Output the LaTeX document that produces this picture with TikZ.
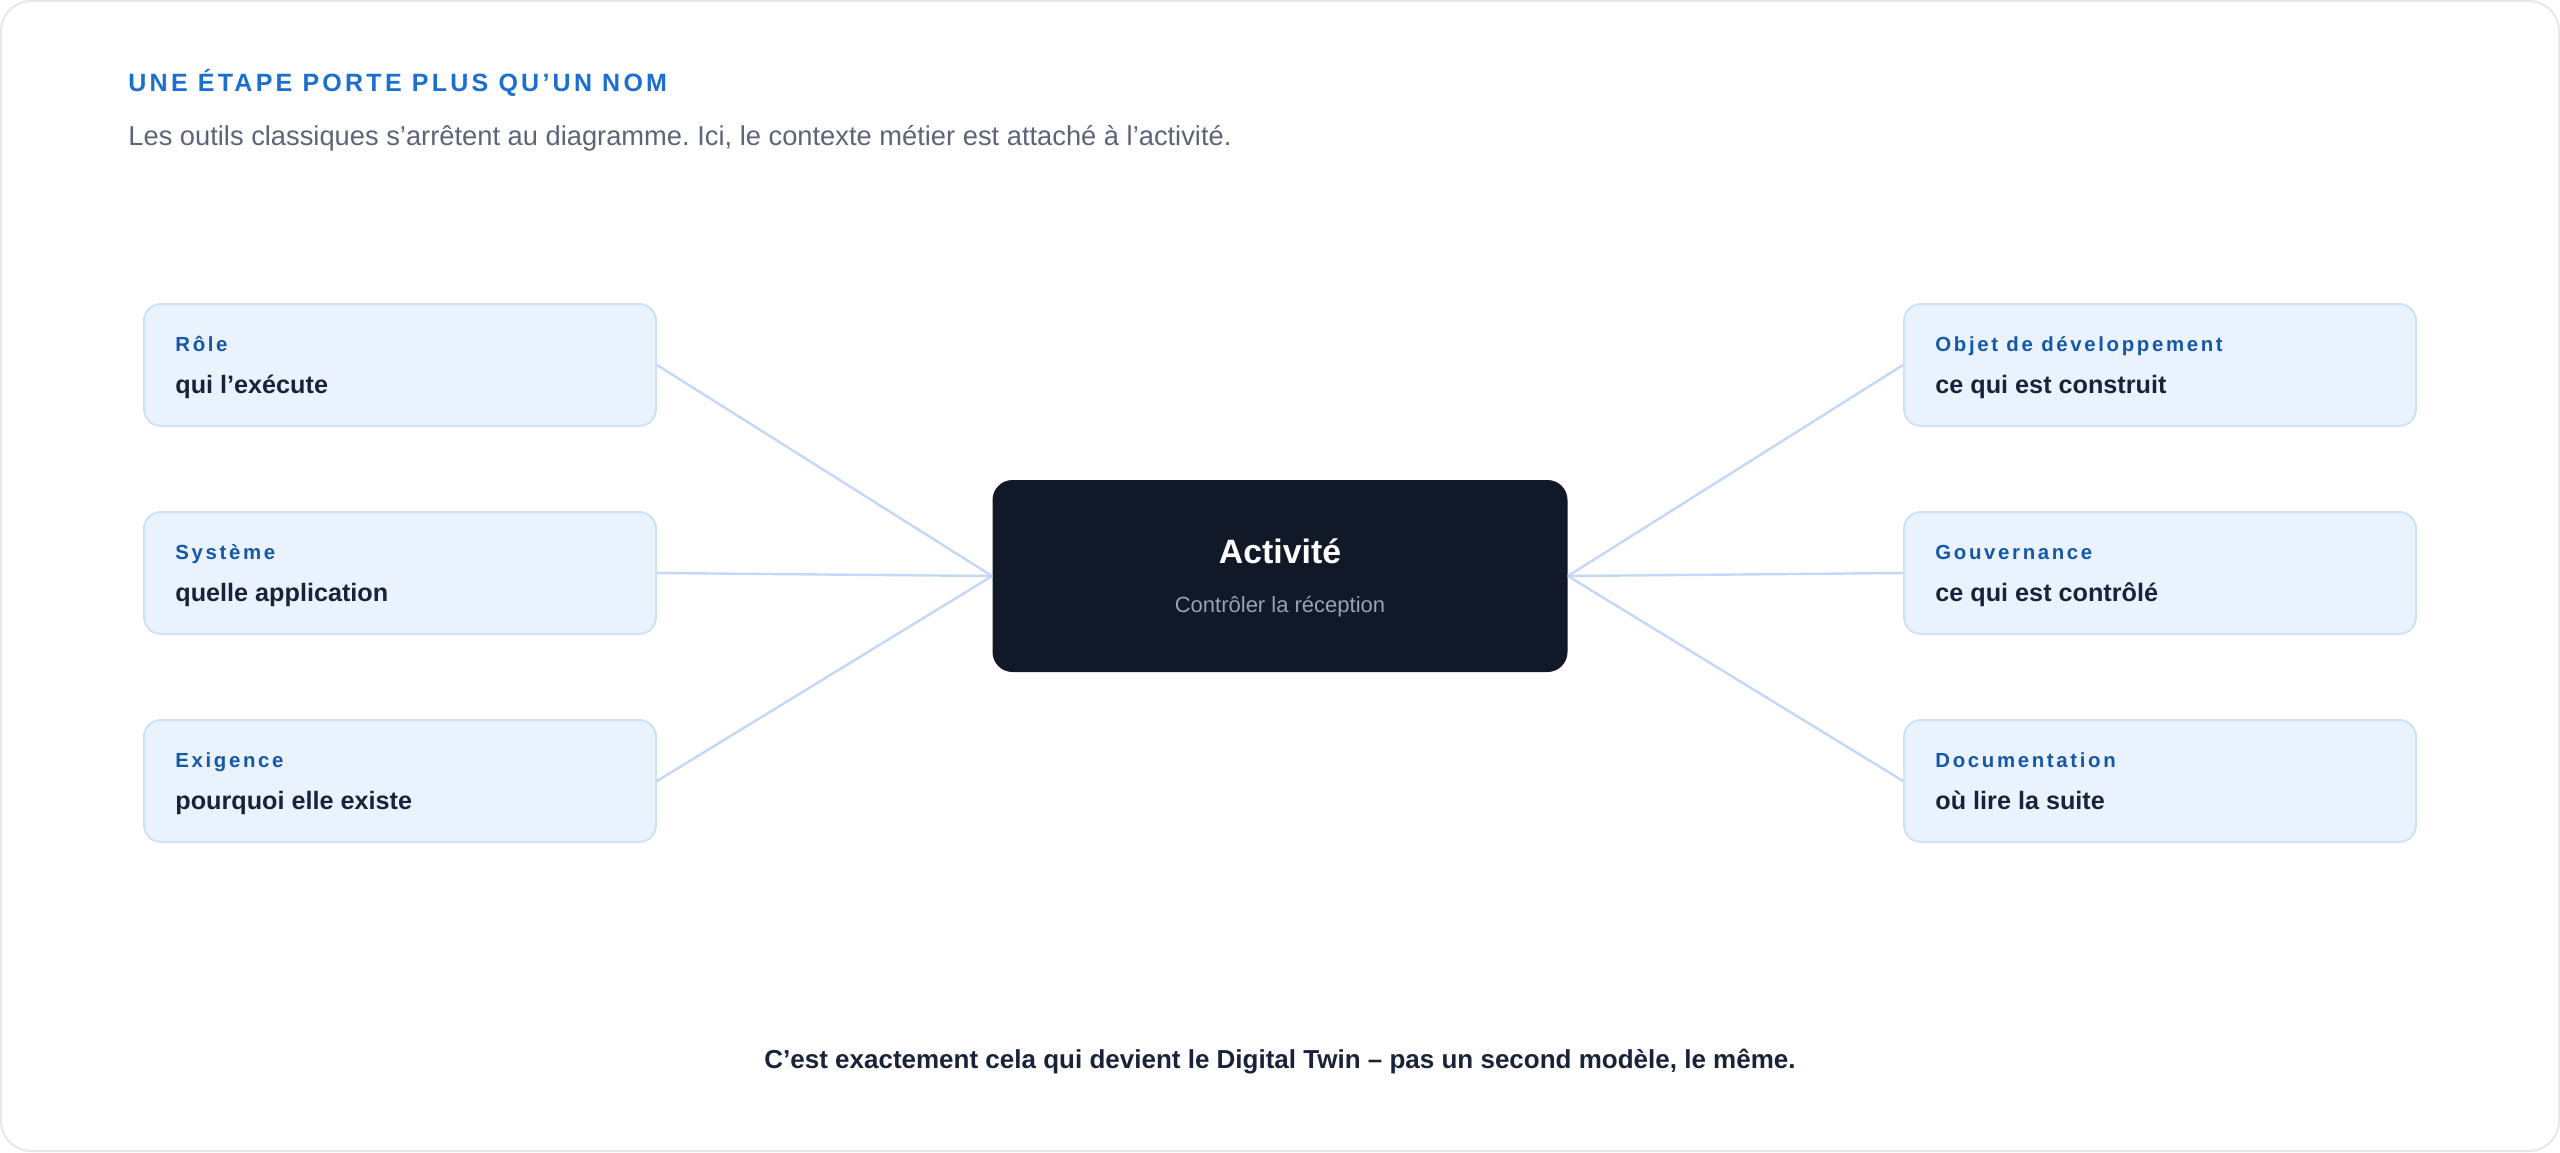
\documentclass[tikz,border=0pt]{standalone}
\usepackage{fontspec}
\setmainfont{Liberation Sans}
\newfontfamily\spacedfont{Liberation Sans}[LetterSpace=13]
\usetikzlibrary{positioning}
\frenchspacing

\definecolor{cardline}{HTML}{E5E7EB}
\definecolor{headblue}{HTML}{1A6FD1}
\definecolor{subgray}{HTML}{5B6577}
\definecolor{facetfill}{HTML}{EAF2FE}
\definecolor{facetline}{HTML}{CFE0FB}
\definecolor{tagblue}{HTML}{1458A8}
\definecolor{navy}{HTML}{18233A}
\definecolor{linkblue}{HTML}{C3D8F9}
\definecolor{ink}{HTML}{111827}
\definecolor{mutedblue}{HTML}{94A3B8}

\tikzset{
  facet/.style={draw=facetline, line width=1pt, fill=facetfill, rounded corners=8.5pt,
    minimum width=256pt, minimum height=61pt, inner sep=0pt},
  activity/.style={fill=ink, rounded corners=10pt,
    minimum width=287.5pt, minimum height=96pt, inner sep=0pt},
  tag/.style={anchor=base west, inner sep=0pt, text=tagblue, font=\spacedfont\bfseries\fontsize{10.2}{12}\selectfont},
  value/.style={anchor=base west, inner sep=0pt, text=navy, font=\bfseries\fontsize{12.6}{15}\selectfont},
  link/.style={draw=linkblue, line width=1.2pt}
}

\begin{document}
\begin{tikzpicture}[x=0.5pt,y=-0.5pt]
\useasboundingbox (0,0) rectangle (2560,1152);
\draw[cardline, line width=1pt, rounded corners=15pt] (1,1) rectangle (2559,1151);

% en-tete
\node[anchor=base west, inner sep=0pt, text=headblue, font=\spacedfont\bfseries\fontsize{12.5}{15}\selectfont] (title) at (128,91) {UNE ÉTAPE PORTE PLUS QU’UN NOM};
\node[anchor=base west, inner sep=0pt, text=subgray, font=\fontsize{13.65}{16}\selectfont] (intro) at (128,145) {Les outils classiques s’arrêtent au diagramme. Ici, le contexte métier est attaché à l’activité.};

% activite centrale
\node[activity] (act) at (1280,576) {};
\node[anchor=base, inner sep=0pt, text=white, font=\bfseries\fontsize{16.9}{20}\selectfont] (actname) at (1280,563) {Activité};
\node[anchor=base, inner sep=0pt, text=mutedblue, font=\fontsize{11}{13}\selectfont] (actsub) at (1280,612) {Contrôler la réception};

% facettes gauche
\node[facet] (role) at (400,365) {};
\node[tag] at ([xshift=16pt,yshift=-24pt]role.north west) {Rôle};
\node[value] at ([xshift=16pt,yshift=-45pt]role.north west) {qui l’exécute};
\node[facet] (sys) at (400,573) {};
\node[tag] at ([xshift=16pt,yshift=-24pt]sys.north west) {Système};
\node[value] at ([xshift=16pt,yshift=-45pt]sys.north west) {quelle application};
\node[facet] (req) at (400,781) {};
\node[tag] at ([xshift=16pt,yshift=-24pt]req.north west) {Exigence};
\node[value] at ([xshift=16pt,yshift=-45pt]req.north west) {pourquoi elle existe};

% facettes droite
\node[facet] (obj) at (2160,365) {};
\node[tag] at ([xshift=16pt,yshift=-24pt]obj.north west) {Objet de développement};
\node[value] at ([xshift=16pt,yshift=-45pt]obj.north west) {ce qui est construit};
\node[facet] (gov) at (2160,573) {};
\node[tag] at ([xshift=16pt,yshift=-24pt]gov.north west) {Gouvernance};
\node[value] at ([xshift=16pt,yshift=-45pt]gov.north west) {ce qui est contrôlé};
\node[facet] (doc) at (2160,781) {};
\node[tag] at ([xshift=16pt,yshift=-24pt]doc.north west) {Documentation};
\node[value] at ([xshift=16pt,yshift=-45pt]doc.north west) {où lire la suite};

% liens
\draw[link] (role.east) -- (act.west);
\draw[link] (sys.east) -- (act.west);
\draw[link] (req.east) -- (act.west);
\draw[link] (obj.west) -- (act.east);
\draw[link] (gov.west) -- (act.east);
\draw[link] (doc.west) -- (act.east);

% conclusion
\node[anchor=base, inner sep=0pt, text=navy, font=\bfseries\fontsize{13}{16}\selectfont] (outro) at (1280,1068) {C’est exactement cela qui devient le Digital Twin – pas un second modèle, le même.};
\end{tikzpicture}
\end{document}
